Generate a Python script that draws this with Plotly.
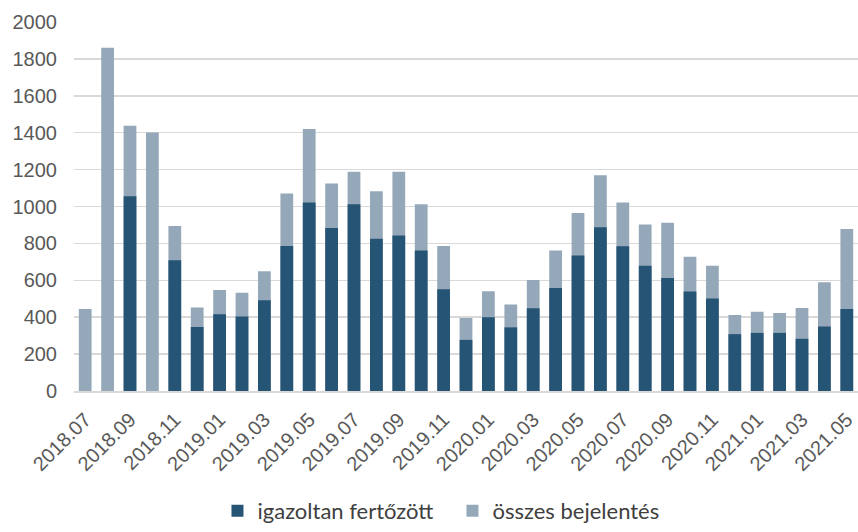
import plotly.graph_objects as go

months = ["2018.07","2018.08","2018.09","2018.10","2018.11","2018.12",
          "2019.01","2019.02","2019.03","2019.04","2019.05","2019.06",
          "2019.07","2019.08","2019.09","2019.10","2019.11","2019.12",
          "2020.01","2020.02","2020.03","2020.04","2020.05","2020.06",
          "2020.07","2020.08","2020.09","2020.10","2020.11","2020.12",
          "2021.01","2021.02","2021.03","2021.04","2021.05"]

osszes = [444, 1861, 1438, 1401, 894, 453,
          548, 532, 649, 1070, 1420, 1124,
          1189, 1083, 1188, 1012, 786, 396,
          540, 469, 601, 761, 965, 1170,
          1022, 903, 912, 727, 679, 412,
          430, 423, 450, 590, 878]

igazolt = [None, None, 1056, None, 709, 347,
           416, 404, 492, 786, 1022, 884,
           1012, 825, 843, 761, 551, 277,
           400, 345, 448, 558, 734, 887,
           784, 679, 613, 539, 501, 308,
           315, 315, 283, 350, 444]

tick_labels = months[::2]

DARK = "#265474"
LIGHT = "#94A8B9"

fig = go.Figure()
fig.add_trace(go.Bar(x=months, y=osszes, name="összes bejelentés",
                     marker=dict(color=LIGHT, line=dict(width=0))))
fig.add_trace(go.Bar(x=months, y=igazolt, name="igazoltan fertőzött",
                     marker=dict(color=DARK, line=dict(width=0))))

fig.update_layout(
    width=858, height=532,
    barmode="overlay", bargap=0.43,
    plot_bgcolor="white", paper_bgcolor="white",
    margin=dict(l=74, r=0, t=22, b=135),
    font=dict(family="Liberation Sans, Arial, sans-serif", color="#595959", size=20),
    showlegend=True,
    legend=dict(orientation="h", x=0.183, xanchor="left", y=-0.325, yanchor="middle",
                traceorder="reversed",
                font=dict(family="Lato, Carlito, sans-serif", size=22, color="#404040"),
                entrywidth=190, entrywidthmode="pixels"),
    xaxis=dict(type="category", tickmode="array", tickvals=tick_labels, ticktext=tick_labels,
               tickangle=-45, showgrid=False, showline=True, linecolor="#D9D9D9", linewidth=2,
               ticks="", tickfont=dict(size=20), ticklabelstandoff=7),
    yaxis=dict(range=[0, 2000], dtick=200, showgrid=True, gridcolor="#D9D9D9", gridwidth=1.5,
               zeroline=False, ticks="", tickfont=dict(size=20), ticklabelstandoff=16),
)

fig.write_html("out.html", config={"displayModeBar": False, "staticPlot": True})

# remove the default browser body margin so the figure fills the window exactly
with open("out.html", encoding="utf-8") as f:
    html = f.read()
html = html.replace("<body>", '<body style="margin:0;padding:0;overflow:hidden">', 1)
html = html.replace("<head>", "<head><style>html,body{margin:0;padding:0;overflow:hidden}</style>", 1)
with open("out.html", "w", encoding="utf-8") as f:
    f.write(html)
